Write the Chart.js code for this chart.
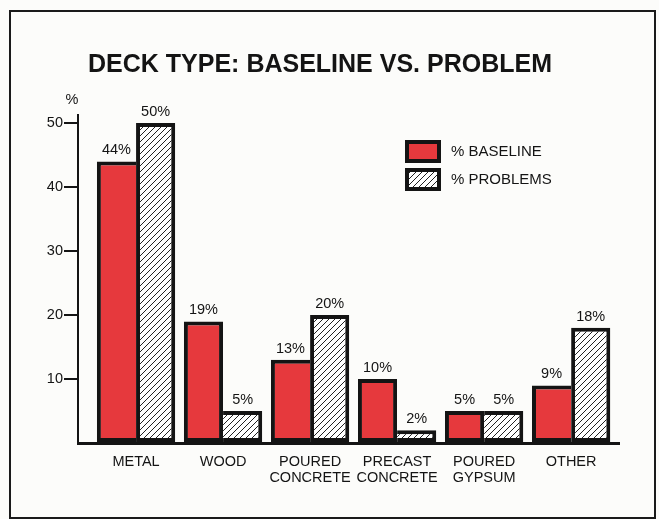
<!DOCTYPE html>
<html>
<head>
<meta charset="utf-8">
<title>Deck type: baseline vs. problem</title>
<script src="https://cdn.jsdelivr.net/npm/chart.js@4/dist/chart.umd.min.js"></script>
<style>
  html, body { margin: 0; padding: 0; background: #fcfcfa; }
  #deck { display: block; }
</style>
</head>
<body>
<canvas id="deck" width="659" height="519"></canvas>
<script>
// deck types and percentages
var categories = ["METAL", "WOOD", "POURED CONCRETE", "PRECAST CONCRETE", "POURED GYPSUM", "OTHER"];
var baseline = [44, 19, 13, 10, 5, 9];
var problems = [50, 5, 20, 2, 5, 18];
var yTicks = [10, 20, 30, 40, 50];

var RED = "#e6393d";
var INK = "#141414";
var FONT = "'Liberation Sans', Arial, Helvetica, sans-serif";

// diagonal hatch fill for the problems bars
function hatch(){
    let c = document.createElement("canvas");
    c.width = 6; c.height = 6;
    let g = c.getContext("2d");
    g.fillStyle = "#ffffff";
    g.fillRect(0, 0, 6, 6);
    g.strokeStyle = "#222";
    g.lineWidth = 1;
    g.beginPath();
    g.moveTo(-1, 7); g.lineTo(7, -1);
    g.moveTo(-1, 1); g.lineTo(1, -1);
    g.moveTo(5, 7); g.lineTo(7, 5);
    g.stroke();
    return g.createPattern(c, "repeat");
}

function toPoints(arr){
    return arr.map(function(v, i){ return {x: i, y: v}; });
}

// the shared edge between a pair of bars is drawn only once, by the taller bar
function edges(own, other, side){
    return function(ctx){
        let w = {top: 4, left: 4, right: 4, bottom: 4};
        let i = ctx.dataIndex;
        if (i === undefined) return w;
        let tallerOther = side === "right" ? other[i] > own[i] : other[i] >= own[i];
        if (tallerOther) w[side] = 0;
        return w;
    };
}

var frame = {
    id: "frame",
    beforeDraw: function(chart){
        let g = chart.ctx;
        g.save();
        g.fillStyle = "#fcfcfa";
        g.fillRect(0, 0, chart.width, chart.height);
        g.strokeStyle = "#1a1a1a";
        g.lineWidth = 2;
        g.strokeRect(10, 11, 645, 507);
        g.restore();
    }
};

var barLabels = {
    id: "barLabels",
    afterDatasetsDraw: function(chart){
        let g = chart.ctx;
        g.save();
        g.fillStyle = INK;
        g.font = "14.5px " + FONT;
        g.textAlign = "center";
        g.textBaseline = "bottom";
        chart.data.datasets.forEach(function(ds, d){
            chart.getDatasetMeta(d).data.forEach(function(bar, i){
                g.fillText(ds.data[i].y + "%", bar.x, bar.y - 4);
            });
        });
        // unit above the value axis
        let y = chart.scales.y;
        g.textBaseline = "middle";
        g.fillText("%", y.right - 6, chart.chartArea.top - 15);
        g.restore();
    }
};

var keyBox = {
    id: "keyBox",
    afterDraw: function(chart){
        let g = chart.ctx;
        g.save();
        chart.data.datasets.forEach(function(ds, d){
            let top = 140 + d * 28;
            g.fillStyle = INK;
            g.fillRect(405, top, 36, 23);
            g.fillStyle = ds.backgroundColor;
            g.fillRect(409, top + 4, 28, 15);
            g.fillStyle = INK;
            g.font = "15px " + FONT;
            g.textAlign = "left";
            g.textBaseline = "middle";
            g.fillText(ds.label, 451, top + 12);
        });
        g.restore();
    }
};

new Chart(document.getElementById("deck"), {
    type: "bar",
    data: {
        datasets: [
            {
                label: "% BASELINE",
                data: toPoints(baseline),
                backgroundColor: RED,
                borderColor: INK,
                borderWidth: edges(baseline, problems, "right"),
                borderSkipped: false
            },
            {
                label: "% PROBLEMS",
                data: toPoints(problems),
                backgroundColor: hatch(),
                borderColor: INK,
                borderWidth: edges(problems, baseline, "left"),
                borderSkipped: false
            }
        ]
    },
    options: {
        responsive: false,
        animation: false,
        events: [],
        categoryPercentage: 0.9,
        barPercentage: 1.0,
        layout: { padding: { left: 21, right: 40, top: 0, bottom: 0 } },
        plugins: {
            legend: { display: false },
            tooltip: { enabled: false },
            title: {
                display: true,
                text: "DECK TYPE: BASELINE VS. PROBLEM",
                color: INK,
                font: { family: FONT, size: 25, weight: "bold", lineHeight: 1.2 },
                padding: { top: 50, bottom: 35 }
            }
        },
        scales: {
            x: {
                type: "linear",
                min: -0.667,
                max: 5.55,
                offset: false,
                border: { display: true, color: INK, width: 3 },
                grid: { display: true, offset: false, drawOnChartArea: false, drawTicks: false },
                afterFit: function(s){ s.height = 76; },
                ticks: {
                    stepSize: 1,
                    includeBounds: false,
                    autoSkip: false,
                    maxRotation: 0,
                    padding: 11,
                    color: INK,
                    font: { family: FONT, size: 14.5, lineHeight: 1.1 },
                    callback: function(v){
                        return Number.isInteger(v) && categories[v] ? categories[v].split(" ") : "";
                    }
                }
            },
            y: {
                min: 0,
                max: 51.25,
                border: { display: true, color: INK, width: 2 },
                grid: {
                    drawOnChartArea: false,
                    drawTicks: true,
                    tickLength: 14,
                    lineWidth: 2,
                    color: function(ctx){ return ctx.tick && ctx.tick.value === 0 ? "rgba(0,0,0,0)" : INK; }
                },
                afterFit: function(s){ s.width = 57; },
                afterBuildTicks: function(s){
                    s.ticks = [0].concat(yTicks).map(function(v){ return {value: v}; });
                },
                ticks: {
                    padding: 1,
                    color: INK,
                    font: { family: FONT, size: 14.5 },
                    callback: function(v){ return v === 0 ? "" : v; }
                }
            }
        }
    },
    plugins: [frame, barLabels, keyBox]
});
</script>
</body>
</html>
